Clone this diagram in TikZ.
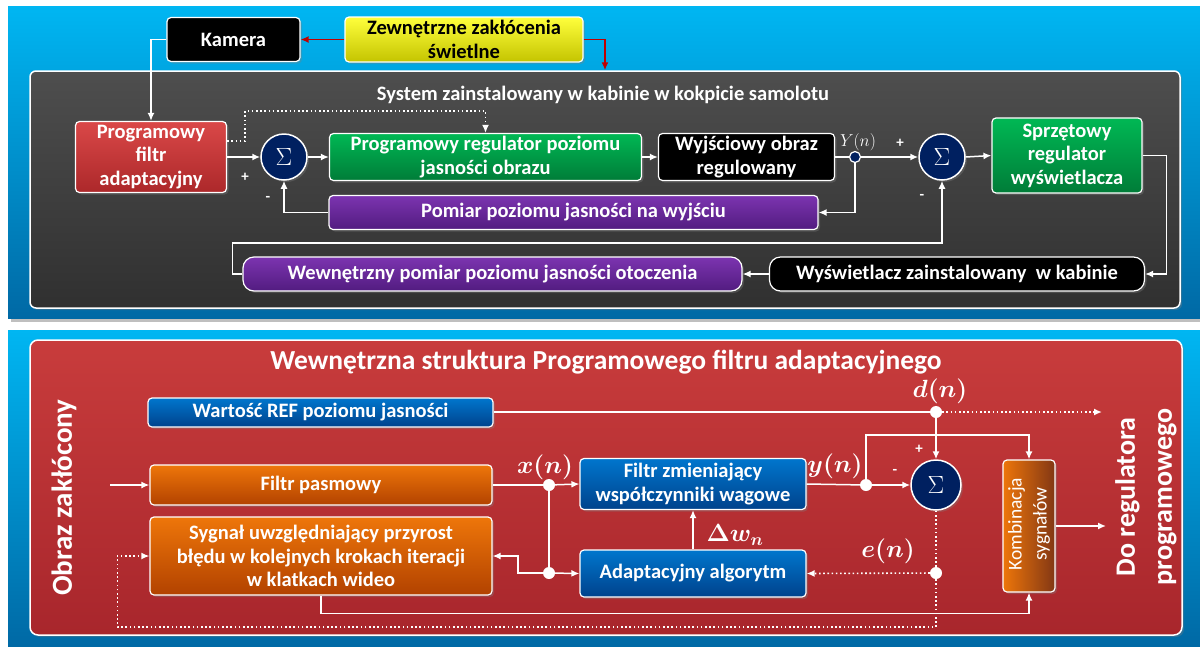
\documentclass[tikz,border=0pt]{standalone}
\usepackage{fontspec}
\setmainfont{Carlito}
\usepackage{amsmath}
\usetikzlibrary{arrows.meta,shadows,calc}
\definecolor{skyA}{RGB}{0,182,242}
\definecolor{skyB}{RGB}{0,105,165}
\definecolor{greyA}{RGB}{78,78,78}
\definecolor{greyB}{RGB}{48,48,48}
\definecolor{pnlA}{RGB}{200,60,60}
\definecolor{pnlB}{RGB}{168,38,44}
\definecolor{redA}{RGB}{218,72,72}
\definecolor{redB}{RGB}{172,40,42}
\definecolor{grnA}{RGB}{0,184,84}
\definecolor{grnB}{RGB}{0,124,56}
\definecolor{purA}{RGB}{124,52,176}
\definecolor{purB}{RGB}{82,28,128}
\definecolor{yelA}{RGB}{255,255,60}
\definecolor{yelB}{RGB}{196,196,0}
\definecolor{navy}{RGB}{0,32,96}
\definecolor{bluA}{RGB}{0,118,205}
\definecolor{bluB}{RGB}{0,66,140}
\definecolor{orA}{RGB}{238,118,10}
\definecolor{orB}{RGB}{178,66,0}
\definecolor{brn}{RGB}{130,55,20}
\definecolor{darkred}{RGB}{192,0,0}
\tikzset{
  shd/.style={drop shadow={opacity=0.35,shadow xshift=2pt,shadow yshift=-2pt}},
  bx/.style={shd,draw=white,line width=1.2pt,rounded corners=4pt,text=white,
    font=\bfseries\fontsize{20.5}{23.5}\selectfont,align=center,inner sep=0pt},
  pill/.style={bx,rounded corners=11pt},
  grnbox/.style={bx,top color=grnA,bottom color=grnB},
  blkbox/.style={bx,fill=black},
  purbox/.style={bx,top color=purA,bottom color=purB},
  redbox/.style={bx,top color=redA,bottom color=redB},
  yelbox/.style={bx,top color=yelA,bottom color=yelB,text=black},
  blubox/.style={bx,top color=bluA,bottom color=bluB},
  orbox/.style={bx,top color=orA,bottom color=orB},
  sumc/.style={shd,circle,draw=white,line width=1.5pt,fill=navy,text=white,
    minimum size=46pt,inner sep=0pt,font=\fontsize{24}{24}\selectfont},
  jdot/.style={circle,fill=white,minimum size=12pt,inner sep=0pt},
  conn/.style={draw=white,line width=1.5pt,-{Latex[length=8pt,width=7pt]}},
  wline/.style={draw=white,line width=1.5pt},
  dots/.style={draw=white,line width=1.6pt,dash pattern=on 1.6pt off 2.6pt},
  dotarr/.style={dots,-{Latex[length=8pt,width=7pt]}},
  redarr/.style={draw=darkred,line width=1.5pt,-{Latex[length=8pt,width=7pt]}},
  sign/.style={text=white,font=\bfseries\fontsize{15}{15}\selectfont},
  lbl/.style={text=white,font=\fontsize{23}{23}\selectfont},
}
\begin{document}
\begin{tikzpicture}[x=1pt,y=-1pt]
\useasboundingbox (0,0) rectangle (1200,646);
\fill[white] (0,0) rectangle (1200,646);
% ---------- top panel ----------
\fill[black!25] (11,9) rectangle (1200,322);
\shade[top color=skyA,bottom color=skyB] (8,6) rectangle (1200,318);
\node[shd,draw=white,line width=1.5pt,rounded corners=6pt,top color=greyA,bottom color=greyB,
  minimum width=1150pt,minimum height=237pt,inner sep=0pt] (gp) at (605,189.5) {};
\node[text=white,font=\bfseries\fontsize{20.5}{23}\selectfont] (sys) at (603,95)
  {System zainstalowany w kabinie w kokpicie samolotu};
\node[blkbox,minimum width=133pt,minimum height=44pt] (cam) at (233.5,39.5) {Kamera};
\node[yelbox,minimum width=238pt,minimum height=45pt] (ext) at (464,39.5)
  {Zewnętrzne zakłócenia\\świetlne};
\node[redbox,minimum width=151pt,minimum height=71pt] (filt) at (151,157)
  {Programowy\\filtr\\adaptacyjny};
\node[sumc] (s1) at (284,157) {$\Sigma$};
\node[grnbox,minimum width=312pt,minimum height=47pt] (prog) at (485.5,157)
  {Programowy regulator poziomu\\jasności obrazu};
\node[blkbox,minimum width=176pt,minimum height=47pt] (wyj) at (746.5,157)
  {Wyjściowy obraz\\regulowany};
\node[circle,draw=white,line width=1.2pt,fill=navy,minimum size=11pt,inner sep=0pt] (yn) at (855,157) {};
\node[text=white,font=\fontsize{18}{18}\selectfont] (ynl) at (858,142) {$Y(n)$};
\node[sumc] (s2) at (942,157) {$\Sigma$};
\node[grnbox,minimum width=150pt,minimum height=75pt] (sprz) at (1067,155.5)
  {Sprzętowy\\regulator\\wyświetlacza};
\node[purbox,minimum width=489pt,minimum height=34pt] (pom) at (573.5,212.5)
  {Pomiar poziomu jasności na wyjściu};
\node[pill,fill=black,minimum width=375pt,minimum height=34pt] (wys) at (957,274)
  {Wyświetlacz zainstalowany~ w kabinie};
\node[pill,top color=purA,bottom color=purB,minimum width=499pt,minimum height=34pt] (wew) at (492.5,274)
  {Wewnętrzny pomiar poziomu jasności otoczenia};
\node[sign] at (245,177) {+};
\node[sign] at (268,199) {-};
\node[sign] at (900,143) {+};
\node[sign] at (922,197) {-};
% connectors top
\draw[redarr] (ext.west) -- (cam.east);
\draw[redarr] (ext.east) -| (gp.north);
\draw[conn] (cam.west) -| (filt.north);
\draw[dotarr] ($(filt.east)+(0,-16)$) -- ++(18,0) -- ++(0,-30) -| (prog.north);
\draw[conn] (filt.east) -- (s1.west);
\draw[conn] (s1.east) -- (prog.west);
\draw[conn] (prog.east) -- (wyj.west);
\draw[wline] (wyj.east) -- (yn.west);
\draw[conn] (yn.east) -- (s2.west);
\draw[conn] (s2.east) -- (sprz.west);
\draw[conn] (yn.south) |- (pom.east);
\draw[conn] (pom.west) -| (s1.south);
\draw[conn] (sprz.east) -- ++(24,0) |- (wys.east);
\draw[conn] (wys.west) -- (wew.east);
\draw[conn] (wew.west) -- ++(-10,0) -- ++(0,-31) -| (s2.south);
% ---------- bottom panel ----------
\fill[black!25] (11,333) rectangle (1200,646);
\shade[top color=skyA,bottom color=skyB] (8,330) rectangle (1200,646);
\node[shd,draw=white,line width=1.5pt,rounded corners=8pt,top color=pnlA,bottom color=pnlB,
  minimum width=1152pt,minimum height=295pt,inner sep=0pt] (rp) at (606,487.5) {};
\node[text=white,font=\bfseries\fontsize{27.5}{30}\selectfont] (ttl) at (606,362)
  {Wewnętrzna struktura Programowego filtru adaptacyjnego};
\node[rotate=90,text=white,font=\bfseries\fontsize{29}{32}\selectfont] (obr) at (64,497.5)
  {Obraz zakłócony};
\node[rotate=90,text=white,align=center,font=\bfseries\fontsize{28}{37}\selectfont] (dor) at (1146,497)
  {Do regulatora\\programowego};
\node[blubox,minimum width=345pt,minimum height=29pt] (ref) at (320.5,412.5)
  {Wartość REF poziomu jasności};
\node[orbox,minimum width=342pt,minimum height=40pt] (fp) at (321,485)
  {Filtr pasmowy};
\node[orbox,minimum width=342pt,minimum height=78pt] (syg) at (321,556)
  {Sygnał uwzględniający przyrost\\błędu w kolejnych krokach iteracji\\w klatkach wideo};
\node[blubox,minimum width=226pt,minimum height=51pt] (fz) at (693,484)
  {Filtr zmieniający\\współczynniki wagowe};
\node[blubox,minimum width=226pt,minimum height=47pt] (aa) at (693,573.5)
  {Adaptacyjny algorytm};
\node[sumc,minimum size=50pt] (s3) at (936,485) {$\Sigma$};
\node[bx,left color=orA,right color=brn,minimum width=52pt,minimum height=132pt] (kom) at (1029,526) {};
\node[rotate=90,text=white,align=center,font=\fontsize{19.5}{25}\selectfont] (komt) at (1029,524)
  {Kombinacja\\sygnałów};
\node[jdot] (xd) at (549,485) {};
\node[jdot] (xd2) at (549,573) {};
\node[jdot] (yd) at (866,485) {};
\node[jdot] (dd) at (936,412) {};
\node[jdot] (ed) at (936,573) {};
\node[lbl] (xlab) at (545,467) {$\boldsymbol{x(n)}$};
\node[lbl] (ylab) at (835,466) {$\boldsymbol{y(n)}$};
\node[lbl] (dlab) at (940,391) {$\boldsymbol{d(n)}$};
\node[lbl] (elab) at (888,551) {$\boldsymbol{e(n)}$};
\node[lbl] (wlab) at (735,535) {$\boldsymbol{\Delta w_{n}}$};
\node[sign] at (919,449) {+};
\node[sign] at (895,472) {-};
\coordinate (inp) at (110,485);
\coordinate (outd) at (1102,412);
\coordinate (outk) at (1106,526);
% connectors bottom
\draw[conn] (inp) -- (fp.west);
\draw[wline] (ref.east |- dd) -- (dd);
\draw[dotarr] (dd) -- (outd);
\draw[wline] (fp.east) -- (xd);
\draw[conn] (xd) -- (fz.west);
\draw[wline] (xd) -- (xd2);
\draw[conn] (xd2) -- (aa.west);
\draw[conn] (xd2) -- ++(-31,0) |- (syg.east);
\draw[conn] (aa.north) -- (fz.south);
\draw[wline] (fz.east) -- (yd);
\draw[conn] (yd) -- (s3.west);
\draw[conn] (dd) -- (s3.north);
\draw[conn] (yd) -- ++(0,-50) -| (kom.north);
\draw[conn] (kom.east) -- (outk);
\draw[dots] (s3.south) -- (ed);
\draw[dotarr] (ed) -- (aa.east);
\draw[dotarr] (ed) -- ++(0,54) -| ($(syg.west)+(-32,0)$) -- (syg.west);
\draw[conn] (syg.south) -- ++(0,18) -| (kom.south);
\end{tikzpicture}
\end{document}
